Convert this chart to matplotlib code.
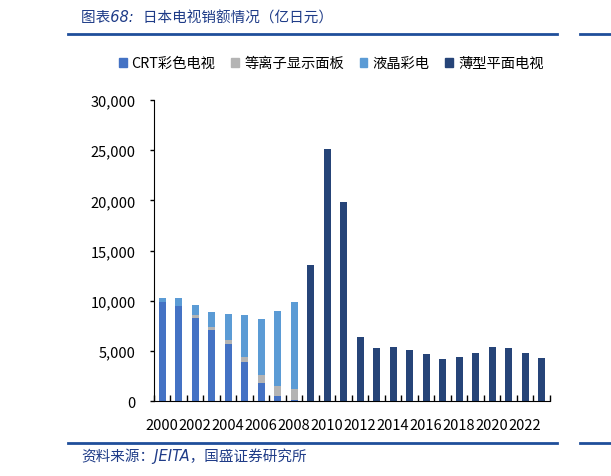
import numpy as np
import matplotlib
matplotlib.use("Agg")
import matplotlib.pyplot as plt
from matplotlib.patches import Rectangle
from matplotlib.lines import Line2D

plt.rcParams['font.family'] = ['Noto Sans CJK SC', 'DejaVu Sans']

years = list(range(2000, 2024))
crt = [9840, 9500, 8300, 7080, 5650, 3890, 1790, 530, 130] + [0] * 15
plasma = [0, 0, 270, 300, 430, 500, 800, 970, 1070] + [0] * 15
lcd = [400, 740, 1000, 1490, 2620, 4210, 5550, 7440, 8640] + [0] * 15
flat = [0] * 9 + [13600, 25150, 19810, 6350, 5280, 5420, 5050, 4650, 4190,
                  4420, 4790, 5350, 5280, 4790, 4290]

labels = ["CRT彩色电视", "等离子显示面板", "液晶彩电", "薄型平面电视"]
colors = ["#4472C4", "#B4B4B4", "#5B9BD5", "#264478"]

fig = plt.figure(figsize=(6.11, 4.77), dpi=100)
ax = fig.add_axes([0.252, 0.157, 0.648, 0.631])

x = np.arange(len(years))
w = 0.42
bottom = np.zeros(len(years))
for vals, col, lab in zip([crt, plasma, lcd, flat], colors, labels):
    ax.bar(x, vals, w, bottom=bottom, color=col, label=lab, zorder=2)
    bottom += np.array(vals)

ax.set_xlim(-0.5, len(years) - 0.5)
ax.set_ylim(0, 30000)
ax.set_yticks(range(0, 30001, 5000))
ax.set_yticklabels([f"{v:,}" for v in range(0, 30001, 5000)], fontsize=10.5)
ax.set_xticks(x[::2])
ax.set_xticklabels([str(y) for y in years[::2]], fontsize=10.5)
ax.tick_params(axis='x', length=0, pad=12)
ax.tick_params(axis='y', length=3, width=1, direction='out', pad=10)
# category boundary ticks
ax.set_xticks(np.arange(-0.5, len(years), 1), minor=True)
ax.tick_params(axis='x', which='minor', length=4, width=1, direction='in')
for s in ['top', 'right']:
    ax.spines[s].set_visible(False)
ax.spines['left'].set_color('black')
ax.spines['bottom'].set_color('black')

handles = [Rectangle((0, 0), 1, 1, color=c) for c in colors]
fig.legend(handles, labels, loc='center', bbox_to_anchor=(0.542, 0.865), ncol=4,
           frameon=False, fontsize=10.3, handlelength=0.55, handleheight=0.55,
           handletextpad=0.35, columnspacing=1.1)

blue = "#1F4E9A"
fig.text(0.133, 0.963, "图表68:  日本电视销额情况（亿日元）", fontsize=10.5,
         color="#1F3C88", style='italic', va='center',
         family=['DejaVu Sans', 'Noto Sans CJK SC'])
fig.text(0.133, 0.043, "资料来源：JEITA，国盛证券研究所", fontsize=10.5,
         color="#1F3C88", style='italic', va='center',
         family=['DejaVu Sans', 'Noto Sans CJK SC'])
for yy in [0.927, 0.069]:
    fig.add_artist(Line2D([0.111, 0.912], [yy, yy], color=blue, lw=2))
    fig.add_artist(Line2D([0.95, 1.0], [yy, yy], color=blue, lw=2))

fig.savefig("out.png", dpi=100)
